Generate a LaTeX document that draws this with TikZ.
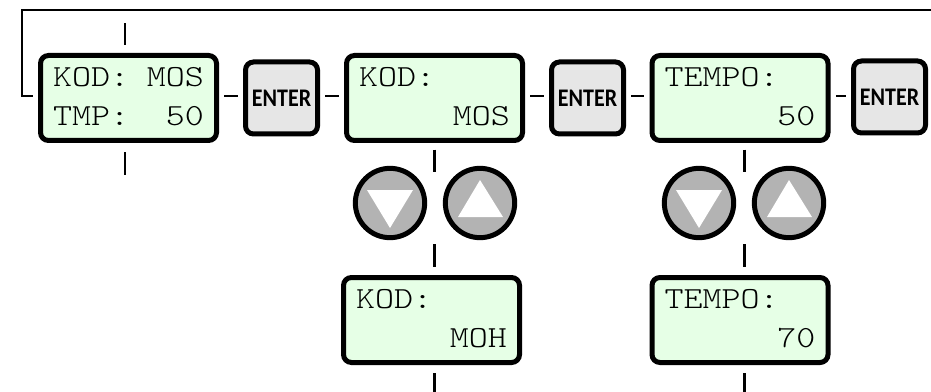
\documentclass[tikz,border=0pt]{standalone}
\usepackage{fontspec}
\newfontfamily\lcdfont[FakeStretch=1.18]{Latin Modern Mono Light}
\newfontfamily\keyfont[FakeStretch=0.87]{Carlito Bold}
\newcommand{\lcdrow}[2]{\makebox[113pt]{#1\hfill #2}}
\tikzset{
  lcd/.style={draw,line width=3.75pt,rounded corners=6pt,fill=lcdgreen,minimum width=132pt,minimum height=63.75pt,
    inner xsep=9.5pt,inner ysep=0pt,align=left,text depth=3pt,font=\lcdfont\fontsize{23}{29.25}\selectfont},
  enterkey/.style={draw,line width=3.75pt,rounded corners=6pt,fill=keygray,minimum width=54pt,minimum height=54pt,
    inner sep=0pt,font=\keyfont\fontsize{19}{19}\selectfont},
  updown/.style={draw,circle,line width=3.75pt,fill=btngray,minimum size=52pt,inner sep=0pt},
  link/.style={line width=1.7pt,shorten <=4pt,shorten >=4pt},
  tick/.style={line width=1.7pt}
}
\definecolor{lcdgreen}{RGB}{230,255,230}
\definecolor{keygray}{RGB}{230,230,230}
\definecolor{btngray}{RGB}{179,179,179}
\begin{document}
\begin{tikzpicture}[x=0.75pt,y=-0.75pt]
\useasboundingbox (0,0) rectangle (931,392);

\node[lcd] (lcdA) at (128.5,98) {\lcdrow{KOD:}{MOS}\\\lcdrow{TMP:}{50}};
\node[enterkey] (enterA) at (281.5,98) {ENTER};
\node[lcd] (lcdB) at (434.5,98) {\lcdrow{KOD:}{}\\\lcdrow{}{MOS}};
\node[enterkey] (enterB) at (587.5,98) {ENTER};
\node[lcd] (lcdC) at (740,98) {\lcdrow{TEMPO:}{}\\\lcdrow{}{50}};
\node[enterkey] (enterC) at (889.5,97) {ENTER};

\node[lcd] (lcdD) at (431.5,320) {\lcdrow{KOD:}{}\\\lcdrow{}{MOH}};
\node[lcd] (lcdE) at (740,320) {\lcdrow{TEMPO:}{}\\\lcdrow{}{70}};

\node[updown] (downB) at (390,203) {};
\node[updown] (upB) at (480,203) {};
\node[updown] (downC) at (699,203) {};
\node[updown] (upC) at (789,203) {};

\fill[white] (367,190) -- (413,190) -- (390,228) -- cycle;
\fill[white] (458,217) -- (503,217) -- (480,180) -- cycle;
\fill[white] (676,190) -- (722,190) -- (699,228) -- cycle;
\fill[white] (767,217) -- (812,217) -- (789,180) -- cycle;

\coordinate (row) at (0,96);
\draw[link] (lcdA.east |- row) -- (enterA.west |- row);
\draw[link] (enterA.east |- row) -- (lcdB.west |- row);
\draw[link] (lcdB.east |- row) -- (enterB.west |- row);
\draw[link] (enterB.east |- row) -- (lcdC.west |- row);
\draw[link] (lcdC.east |- row) -- (enterC.west |- row);

\coordinate (topA) at (125,23);
\coordinate (botA) at (125,175);
\coordinate (backA) at (22,96);
\coordinate (backB) at (931,10);
\draw[tick,shorten <=6pt] (lcdA.north -| topA) -- (topA);
\draw[tick,shorten <=7pt] (lcdA.south -| botA) -- (botA);
\draw[tick,shorten <=4pt] (lcdA.west |- backA) -- (backA) |- (backB);

\coordinate (midB) at (434.5,172);
\coordinate (midD) at (434.5,244);
\coordinate (endD) at (434.5,392);
\draw[tick,shorten <=5pt] (lcdB.south) -- (midB);
\draw[tick,shorten >=6pt] (midD) -- (lcdD.north -| midD);
\draw[tick,shorten <=6pt] (lcdD.south -| endD) -- (endD);

\coordinate (midC) at (744.5,172);
\coordinate (midE) at (744.5,244);
\coordinate (endE) at (744.5,392);
\draw[tick,shorten <=5pt] (lcdC.south -| midC) -- (midC);
\draw[tick,shorten >=6pt] (midE) -- (lcdE.north -| midE);
\draw[tick,shorten <=6pt] (lcdE.south -| endE) -- (endE);
\end{tikzpicture}
\end{document}
